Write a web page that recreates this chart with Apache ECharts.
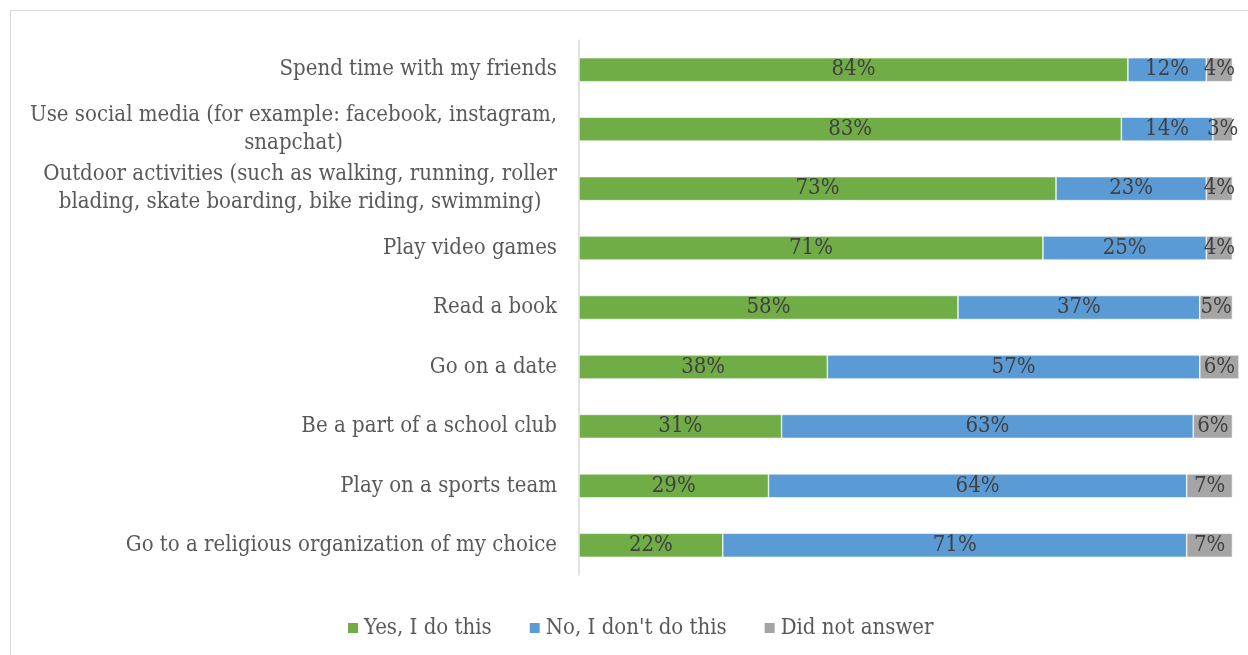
<!DOCTYPE html>
<html>
<head>
<meta charset="utf-8">
<script src="https://cdn.jsdelivr.net/npm/echarts@6/dist/echarts.min.js"></script>
<style>
  html, body { margin: 0; padding: 0; background: #fff; }
  #frame { position: absolute; left: 10px; top: 10px; width: 1240px; height: 660px; border: 1px solid #d9d9d9; box-sizing: border-box; }
  #chart { position: absolute; left: 0; top: 0; width: 1248px; height: 655px; }
</style>
</head>
<body>
<div id="frame"></div>
<div id="chart"></div>
<script>
// Activities, listed top to bottom
const categories = [
  'Spend time with my friends',
  'Use social media (for example: facebook, instagram,\nsnapchat)',
  'Outdoor activities (such as walking, running, roller\nblading, skate boarding, bike riding, swimming)',
  'Play video games',
  'Read a book',
  'Go on a date',
  'Be a part of a school club',
  'Play on a sports team',
  'Go to a religious organization of my choice'
];
const yesValues = [84, 83, 73, 71, 58, 38, 31, 29, 22];
const noValues = [12, 14, 23, 25, 37, 57, 63, 64, 71];
const naValues = [4, 3, 4, 4, 5, 6, 6, 7, 7];
const seriesNames = ['Yes, I do this', "No, I don't do this", 'Did not answer'];
const colors = ['#70AD47', '#5B9BD5', '#A5A5A5'];

const font = '"DejaVu Serif Condensed", "DejaVu Serif", serif';
const fontSize = 22;

function barSeries(name, data, color) {
  return {
    name: name,
    type: 'bar',
    stack: 'total',
    barWidth: 24,
    data: data,
    itemStyle: { color: color, borderColor: '#fff', borderWidth: 0.6 },
    label: {
      show: true,
      position: 'inside',
      formatter: '{c}%',
      color: '#404040',
      fontFamily: font,
      fontSize: fontSize
    }
  };
}

// Wrapped labels: block sits right against the axis, each line centred inside it
function categoryLabel(value) {
  if (value.indexOf('\n') < 0) return value;
  return value.split('\n').map(function (line) { return '{c|' + line + '}'; }).join('\n');
}

const chart = echarts.init(document.getElementById('chart'), null, { renderer: 'canvas' });
chart.setOption({
  animation: false,
  color: colors,
  grid: { left: 579, top: 40, width: 660, height: 535, containLabel: false },
  legend: {
    bottom: 11,
    left: 341,
    itemWidth: 12,
    itemHeight: 12,
    itemGap: 36,
    icon: 'rect',
    textStyle: { color: '#595959', fontFamily: font, fontSize: fontSize },
    data: seriesNames
  },
  xAxis: {
    type: 'value',
    min: 0,
    max: 101,
    show: false
  },
  yAxis: {
    type: 'category',
    inverse: true,
    data: categories,
    axisLine: { show: true, lineStyle: { color: '#d9d9d9', width: 1.5 } },
    axisTick: { show: false },
    axisLabel: {
      margin: 22,
      color: '#595959',
      fontFamily: font,
      fontSize: fontSize,
      lineHeight: 28,
      align: 'right',
      formatter: categoryLabel,
      rich: {
        c: {
          align: 'center',
          color: '#595959',
          fontFamily: font,
          fontSize: fontSize,
          lineHeight: 28
        }
      }
    }
  },
  series: [
    barSeries(seriesNames[0], yesValues, colors[0]),
    barSeries(seriesNames[1], noValues, colors[1]),
    barSeries(seriesNames[2], naValues, colors[2])
  ]
});
</script>
</body>
</html>
